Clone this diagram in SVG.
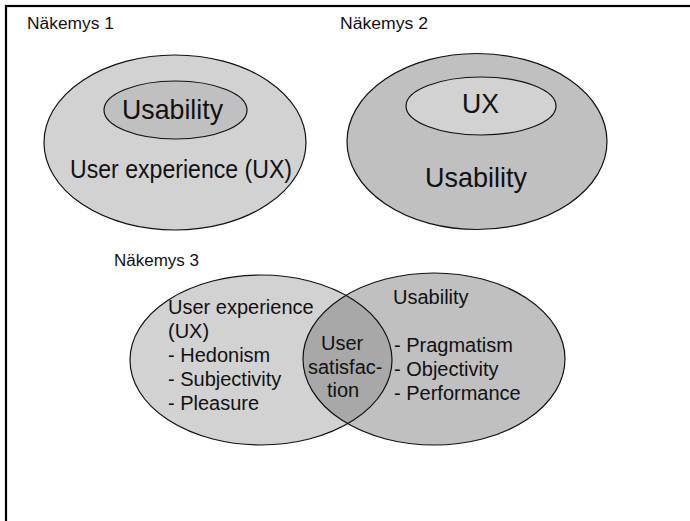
<svg xmlns="http://www.w3.org/2000/svg" width="690" height="521" viewBox="0 0 690 521">
<style>
.t{font-family:"Liberation Sans",Arial,sans-serif;fill:#111}
.l{fill:#d2d2d2}
.m{fill:#c0c0c0}
.s{stroke:#111;stroke-width:1.2}
</style>
<rect x="0" y="0" width="690" height="521" fill="#fff"/>
<rect x="6" y="6" width="720" height="560" fill="none" stroke="#000" stroke-width="2.2"/>
<g id="view1">
<text class="t" x="27" y="29" font-size="16" textLength="87" lengthAdjust="spacingAndGlyphs">Näkemys 1</text>
<ellipse class="l s" cx="175" cy="142.5" rx="131" ry="87.5"/>
<ellipse class="m s" cx="175.5" cy="110" rx="71.5" ry="29"/>
<text class="t" x="122" y="119" font-size="28" textLength="101" lengthAdjust="spacingAndGlyphs">Usability</text>
<text class="t" x="70" y="178" font-size="26" textLength="222" lengthAdjust="spacingAndGlyphs">User experience (UX)</text>
</g>
<g id="view2">
<text class="t" x="340" y="29" font-size="16" textLength="88" lengthAdjust="spacingAndGlyphs">Näkemys 2</text>
<ellipse class="m s" cx="477" cy="141.5" rx="130" ry="88"/>
<ellipse class="l s" cx="481" cy="106" rx="75" ry="29"/>
<text class="t" x="462" y="113" font-size="28" textLength="37" lengthAdjust="spacingAndGlyphs">UX</text>
<text class="t" x="425" y="187" font-size="28" textLength="102" lengthAdjust="spacingAndGlyphs">Usability</text>
</g>
<g id="view3">
<text class="t" x="114" y="266" font-size="16" textLength="85" lengthAdjust="spacingAndGlyphs">Näkemys 3</text>
<defs>
<clipPath id="cl"><ellipse cx="261" cy="360" rx="131" ry="85"/></clipPath>
</defs>
<g id="ux">
<ellipse class="l" cx="261" cy="360" rx="131" ry="85"/>
</g>
<g id="usability">
<ellipse class="m" cx="434" cy="359" rx="131" ry="86"/>
</g>
<g id="satisfaction">
<ellipse cx="434" cy="359" rx="131" ry="86" fill="#a8a8a8" clip-path="url(#cl)"/>
</g>
<ellipse class="s" fill="none" cx="261" cy="360" rx="131" ry="85"/>
<ellipse class="s" fill="none" cx="434" cy="359" rx="131" ry="86"/>
<text class="t" font-size="20"><tspan x="168" y="314">User experience</tspan><tspan x="168" y="338">(UX)</tspan><tspan x="168" y="362">- Hedonism</tspan><tspan x="168" y="386">- Subjectivity</tspan><tspan x="168" y="410">- Pleasure</tspan></text>
<text class="t" font-size="20"><tspan x="321" y="350">User</tspan><tspan x="308" y="374">satisfac-</tspan><tspan x="327" y="397">tion</tspan></text>
<text class="t" font-size="20"><tspan x="393" y="304">Usability</tspan><tspan x="394" y="352">- Pragmatism</tspan><tspan x="394" y="376">- Objectivity</tspan><tspan x="394" y="400">- Performance</tspan></text>
</g>
</svg>
